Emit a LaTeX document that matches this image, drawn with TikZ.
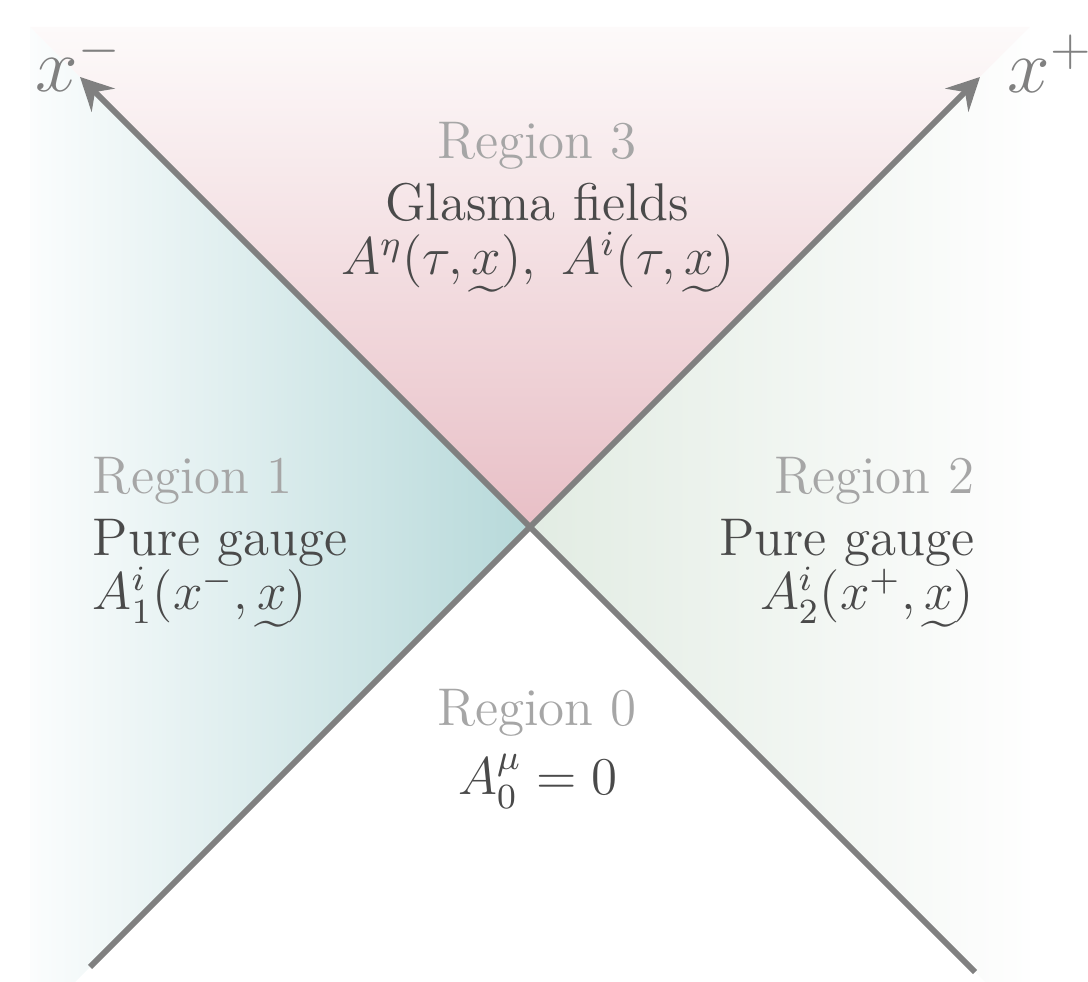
\documentclass[tikz,border=0pt]{standalone}
\usepackage{amsmath}
\usepackage{graphicx}
\usetikzlibrary{arrows.meta}
\definecolor{axisgray}{HTML}{808080}
\definecolor{titlegray}{HTML}{A6A6A6}
\definecolor{maingray}{HTML}{4A4A4A}
\definecolor{tealc}{HTML}{B7D9DA}
\definecolor{tealo}{HTML}{FBFDFD}
\definecolor{pinkc}{HTML}{E8BFC6}
\definecolor{pinko}{HTML}{FDFAFA}
\definecolor{greenc}{HTML}{E2ECE3}
\definecolor{greeno}{HTML}{FEFEFE}
\newcommand{\vx}{\mathord{\mbox{\ooalign{$x$\cr\hidewidth\raisebox{-0.52em}{\scalebox{1.2}[1]{\~{}}}\hidewidth\cr}}}}
\begin{document}
\begin{tikzpicture}[x=0.2262pt,y=-0.2262pt,
  axisline/.style={draw=axisgray, line width=1.3pt, -{Stealth[length=7.4pt,width=7.4pt,inset=2.6pt]}},
  axislabel/.style={text=axisgray, font=\fontsize{17.28}{20}\selectfont, inner sep=0pt, anchor=base west},
  regtitle/.style={text=titlegray, font=\fontsize{12}{14}\selectfont, inner sep=0pt},
  regtext/.style={text=maingray, font=\fontsize{12}{14}\selectfont, inner sep=0pt}]
\useasboundingbox (0,0) rectangle (1088,982);
\clip (0,0) rectangle (1088,982);
\coordinate (O) at (530,527);
% shaded wedges
\shade[left color=tealo, right color=tealc] (O) -- (30,27) -- (30,1027) -- cycle;
\shade[top color=pinko, bottom color=pinkc] (O) -- (30,27) -- (1030,27) -- cycle;
\shade[left color=greenc, right color=greeno] (O) -- (1030,27) -- (1030,1027) -- cycle;
% axes
\coordinate (p0) at (90,967);
\coordinate (p1) at (980,77);
\coordinate (m0) at (975,972);
\coordinate (m1) at (80,77);
\draw[axisline] (p0) -- (p1);
\draw[axisline] (m0) -- (m1);
\node[axislabel] (xp) at (1007,93) {$x^+$};
\node[axislabel] (xm) at (35,92) {$x^-$};
% region 3
\node[regtitle, anchor=base] (r3a) at (537,159) {Region 3};
\node[regtext, anchor=base] (r3b) at (537,221) {Glasma fields};
\node[regtext, anchor=base] (r3c) at (538,275) {$A^{\eta}(\tau,\vx),\ A^{i}(\tau,\vx)$};
% region 1
\node[regtitle, anchor=base west] (r1a) at (92,494) {Region 1};
\node[regtext, anchor=base west] (r1b) at (92,556) {Pure gauge};
\node[regtext, anchor=base west] (r1c) at (92,610) {$A^{i}_{1}(x^-,\vx)$};
% region 2
\node[regtitle, anchor=base east] (r2a) at (975,494) {Region 2};
\node[regtext, anchor=base east] (r2b) at (975,556) {Pure gauge};
\node[regtext, anchor=base east] (r2c) at (975,610) {$A^{i}_{2}(x^+,\vx)$};
% region 0
\node[regtitle, anchor=base] (r0a) at (537,726) {Region 0};
\node[regtext, anchor=base] (r0b) at (538,795) {$A^{\mu}_{0}=0$};
\end{tikzpicture}
\end{document}
